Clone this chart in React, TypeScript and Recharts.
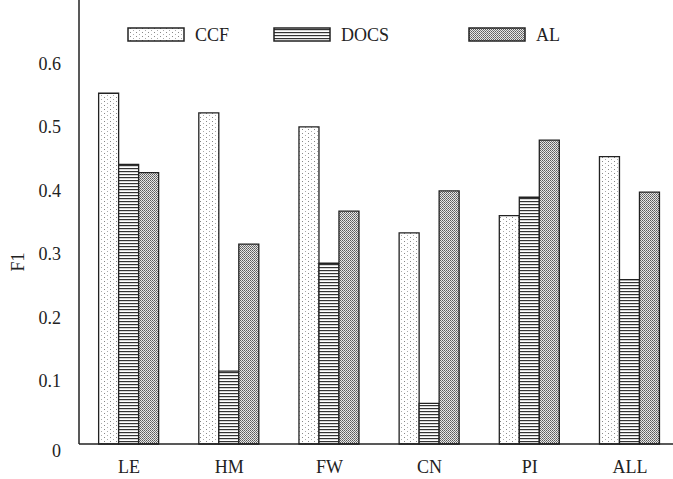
import { BarChart, Bar, XAxis, YAxis, Legend, Label } from 'recharts';

const categories = ['LE', 'HM', 'FW', 'CN', 'PI', 'ALL'];
const ccf = [0.553, 0.522, 0.5, 0.333, 0.36, 0.453];
const docs = [0.441, 0.115, 0.285, 0.064, 0.389, 0.259];
const al = [0.428, 0.315, 0.367, 0.399, 0.479, 0.397];
const seriesNames = ['CCF', 'DOCS', 'AL'];
const yTicks = [0, 0.1, 0.2, 0.3, 0.4, 0.5, 0.6];

const data = categories.map((name, i) => ({
  name,
  CCF: ccf[i],
  DOCS: docs[i],
  AL: al[i],
}));

const FONT = '"Liberation Serif", "Times New Roman", serif';
const INK = '#222';

const legendX = [128, 274, 469];

function LegendRow() {
  return (
    <svg width={673} height={24} style={{ display: 'block' }}>
      {seriesNames.map((s, i) => (
        <g key={s} transform={`translate(${legendX[i]},0)`}>
          <rect x={0} y={5} width={56} height={13} fill={`url(#pat-${s})`} stroke={INK} strokeWidth={1.5} />
          <text x={67} y={12} dy="0.355em" fontFamily={FONT} fontSize={18} fill={INK}>
            {s}
          </text>
        </g>
      ))}
    </svg>
  );
}

function YTick({ x, y, payload }: any) {
  // the "0" label sits a little under the axis line in the original
  const shift = payload.value === 0 ? 7 : 0;
  return (
    <text x={x} y={y + shift} dy="0.355em" textAnchor="end" fontFamily={FONT} fontSize={18} fill={INK}>
      {String(payload.value)}
    </text>
  );
}

export default function App() {
  return (
    <div style={{ position: 'absolute', left: 0, top: 0, width: 673, height: 479, overflow: 'hidden', background: '#fff' }}>
      <BarChart
        width={690}
        height={479}
        data={data}
        margin={{ top: 0, right: 10, left: 0, bottom: 0 }}
        barCategoryGap="19.6%"
        barGap={0}
      >
        <defs>
          <pattern id="pat-CCF" width={6} height={4} patternUnits="userSpaceOnUse">
            <rect width={6} height={4} fill="#fff" />
            <rect x={2} y={1} width={1} height={1} fill="#888" />
            <rect x={5} y={3} width={1} height={1} fill="#aaa" />
          </pattern>
          <pattern id="pat-DOCS" width={4} height={3} patternUnits="userSpaceOnUse">
            <rect width={4} height={3} fill="#fff" />
            <rect x={0} y={0} width={4} height={1.2} fill="#333" />
          </pattern>
          <pattern id="pat-AL" width={2} height={2} patternUnits="userSpaceOnUse">
            <rect width={2} height={2} fill="#e6e6e6" />
            <rect x={0} y={0} width={1} height={1} fill="#5a5a5a" />
            <rect x={1} y={1} width={1} height={1} fill="#777" />
          </pattern>
        </defs>
        <XAxis
          dataKey="name"
          height={35}
          tickLine={false}
          tickSize={0}
          tickMargin={16}
          axisLine={{ stroke: INK, strokeWidth: 1.5 }}
          tick={{ fontFamily: FONT, fontSize: 18, fill: INK }}
        />
        <YAxis
          width={79}
          domain={[0, 0.7]}
          ticks={yTicks}
          tickLine={false}
          tickSize={0}
          tickMargin={18}
          axisLine={{ stroke: INK, strokeWidth: 1.5 }}
          tick={<YTick />}
        >
          <Label
            content={() => (
              <text x={18} y={262} transform="rotate(-90 18 262)" textAnchor="middle" dy="0.355em" fontFamily={FONT} fontSize={18} fill={INK}>
                F1
              </text>
            )}
          />
        </YAxis>
        <Legend
          layout="horizontal"
          verticalAlign="middle"
          align="center"
          wrapperStyle={{ position: 'absolute', top: 23, left: 0, width: 673 }}
          content={<LegendRow />}
        />
        <Bar dataKey="CCF" fill="url(#pat-CCF)" stroke={INK} strokeWidth={1.3} isAnimationActive={false} />
        <Bar dataKey="DOCS" fill="url(#pat-DOCS)" stroke={INK} strokeWidth={1.3} isAnimationActive={false} />
        <Bar dataKey="AL" fill="url(#pat-AL)" stroke={INK} strokeWidth={1.3} isAnimationActive={false} />
      </BarChart>
    </div>
  );
}
